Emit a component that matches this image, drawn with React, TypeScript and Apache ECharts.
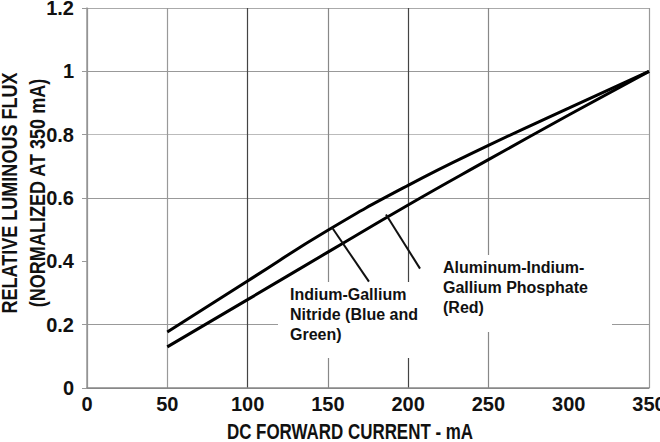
import React, { useEffect, useRef } from "react";
import * as echarts from "echarts";

// DC forward current (mA)
const currentMA = [50, 100, 150, 200, 250, 300, 350];
// Relative luminous flux, normalized at 350 mA
const inganFlux = [0.177, 0.338, 0.498, 0.64, 0.766, 0.884, 1.0];
const alingapFlux = [0.13, 0.279, 0.429, 0.578, 0.721, 0.862, 1.0];

const inganLabel = "Indium-Gallium\nNitride (Blue and\nGreen)";
const alingapLabel = "Aluminum-Indium-\nGallium Phosphate\n(Red)";
// leader lines in data space: [from, to]
const inganLeader = [[152.6, 0.507], [175.6, 0.336]];
const alingapLeader = [[186.2, 0.548], [207.4, 0.377]];

const xTitle = "DC FORWARD CURRENT - mA";
const yTitle = "RELATIVE LUMINOUS FLUX\n(NORMALIZED AT 350 mA)";

const SANS = '"Liberation Sans", Arial, sans-serif';

export default function App() {
  const ref = useRef<HTMLDivElement>(null);
  useEffect(() => {
    if (!ref.current) return;
    const chart = echarts.init(ref.current, undefined, { renderer: "svg" });
    const leader = (pts: number[][]) => [
      [
        { coord: pts[0], symbol: "none" },
        { coord: pts[1], symbol: "none" },
      ],
    ];
    const tickFont = { fontFamily: SANS, fontWeight: "bold", fontSize: 20, color: "#111" };
    chart.setOption({
      animation: false,
      backgroundColor: "#fff",
      grid: {
        left: 87,
        right: 11,
        top: 8,
        bottom: 54,
        containLabel: false,
        outerBoundsMode: "none",
      },
      xAxis: {
        type: "value",
        min: 0,
        max: 350,
        interval: 50,
        axisLine: { show: true, lineStyle: { color: "#888", width: 1.5 } },
        axisTick: { show: false },
        axisLabel: { ...tickFont, margin: 6 },
        splitLine: {
          show: true,
          lineStyle: {
            width: 1.2,
            color: ["#888", "#999", "#444", "#888", "#444", "#888", "rgba(0,0,0,0)", "#999"],
          },
        },
      },
      yAxis: {
        type: "value",
        min: 0,
        max: 1.2,
        interval: 0.2,
        axisLine: { show: true, lineStyle: { color: "#999", width: 1.5 } },
        axisTick: { show: true, inside: false, length: 5, lineStyle: { color: "#999" } },
        axisLabel: { ...tickFont, margin: 13, lineHeight: 16 },
        splitLine: {
          show: true,
          lineStyle: {
            width: 1.2,
            color: ["#888", "#999", "rgba(0,0,0,0)", "#999", "#bbb", "#999", "#aaa"],
          },
        },
      },
      series: [
        {
          type: "line",
          name: "InGaN",
          data: currentMA.map((x, i) => [x, inganFlux[i]]),
          smooth: 0.5,
          showSymbol: false,
          lineStyle: { color: "#000", width: 3 },
          z: 3,
          markLine: {
            silent: true,
            symbol: "none",
            label: { show: false },
            lineStyle: { color: "#111", width: 2, type: "solid" },
            data: leader(inganLeader),
          },
        },
        {
          type: "line",
          name: "AlInGaP",
          data: currentMA.map((x, i) => [x, alingapFlux[i]]),
          smooth: 0.5,
          showSymbol: false,
          lineStyle: { color: "#000", width: 3 },
          z: 3,
          markLine: {
            silent: true,
            symbol: "none",
            label: { show: false },
            lineStyle: { color: "#111", width: 2, type: "solid" },
            data: leader(alingapLeader),
          },
        },
      ],
      graphic: [
        { type: "rect", z: 1, shape: { x: 278, y: 282, width: 152, height: 76 }, style: { fill: "#fff" } },
        { type: "rect", z: 1, shape: { x: 430, y: 255, width: 182, height: 77 }, style: { fill: "#fff" } },
        {
          type: "text",
          z: 5,
          x: 290,
          y: 284,
          style: { text: inganLabel, font: `bold 16px ${SANS}`, fill: "#111", lineHeight: 20 },
        },
        {
          type: "text",
          z: 5,
          x: 443,
          y: 257,
          style: { text: alingapLabel, font: `bold 16px ${SANS}`, fill: "#111", lineHeight: 20 },
        },
        {
          type: "text",
          z: 5,
          x: 350,
          y: 431,
          scaleX: 0.77,
          style: {
            text: xTitle,
            font: `bold 22px ${SANS}`,
            fill: "#111",
            textAlign: "center",
            textVerticalAlign: "middle",
          },
        },
        {
          type: "text",
          z: 5,
          x: 23,
          y: 193,
          rotation: Math.PI / 2,
          scaleX: 0.82,
          style: {
            text: yTitle,
            font: `bold 22px ${SANS}`,
            fill: "#111",
            lineHeight: 28,
            textAlign: "center",
            textVerticalAlign: "middle",
          },
        },
      ],
    });
    return () => chart.dispose();
  }, []);
  return (
    <div
      ref={ref}
      style={{ position: "absolute", left: 0, top: 0, width: 660, height: 442 }}
    />
  );
}
